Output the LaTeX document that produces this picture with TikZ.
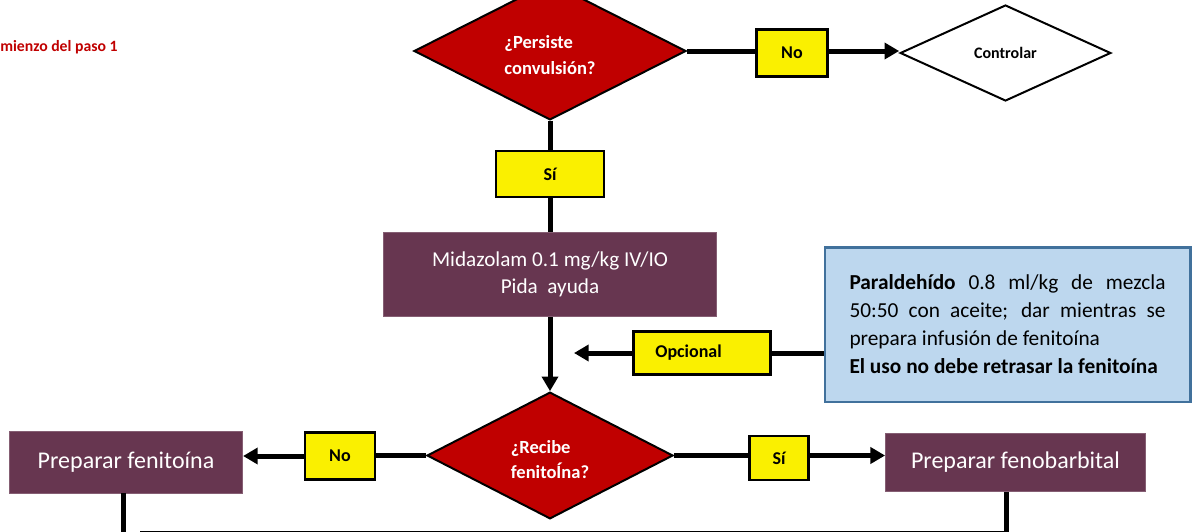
\documentclass[tikz,border=0pt]{standalone}
\usepackage{fontspec}
\setmainfont{Carlito}
\usetikzlibrary{shapes,positioning,arrows.meta,calc}

\begin{document}
\begin{tikzpicture}[x=0.75pt, y=-0.75pt,
    decision/.style={diamond, draw=black, line width=1.5pt, fill=decisionColor, text=white, inner sep=0pt, align=left, text height=35pt, font=\fontsize{13.9}{19}\selectfont\bfseries},
    answer/.style={rectangle, draw=black, line width=2pt, fill=answerColor, inner sep=0pt, font=\fontsize{13.5}{16}\selectfont\bfseries},
    action/.style={rectangle, draw=actionColor!80!white, line width=0.6pt, fill=actionColor, text=white, inner sep=0pt, align=center},
    link/.style={line width=3.75pt},
    linkarrow/.style={link, -{Triangle[length=11pt,width=12pt]}}]
    % Color Palette
    \definecolor{decisionColor}{HTML}{C00000}
    \definecolor{answerColor}{HTML}{FAF000}
    \definecolor{actionColor}{HTML}{673650}
    \definecolor{noteColor}{HTML}{BDD7EE}
    \definecolor{noteBorder}{HTML}{41719C}
    \definecolor{stepColor}{HTML}{C00000}

    \useasboundingbox (0,0) rectangle (1197,532);

    % --- Step label (Top Left) ---
    \node[anchor=west, inner sep=0pt, text=stepColor, font=\fontsize{11.8}{14}\selectfont\bfseries] (pasoUno) at (0,47) {mienzo del paso 1};

    % --- First decision ---
    \node[decision, minimum width=204pt, minimum height=100.5pt] (persiste) at (550,51) {¿Persiste\\convulsión?};
    \node[answer, minimum width=53pt, minimum height=35pt] (noA) at (792,53) {No};
    \node[diamond, draw=black, line width=1.5pt, fill=white, inner sep=0pt, minimum width=158pt, minimum height=72pt, font=\fontsize{12}{14}\selectfont\bfseries] (controlar) at (1005.5,53) {Controlar};
    \node[answer, minimum width=81pt, minimum height=34.5pt] (siA) at (550,174) {Sí};

    % --- Midazolam ---
    \node[action, minimum width=250pt, minimum height=63pt, font=\fontsize{15.9}{20.7}\selectfont] (midazolam) at (550,274.5) {Midazolam 0.1 mg/kg IV/IO\\Pida\ \ ayuda};

    % --- Optional note (Right) ---
    \node[draw=noteBorder, line width=2pt, fill=noteColor, minimum width=274pt, minimum height=116pt, text width=237pt, align=justify, font=\fontsize{16}{21}\selectfont] (paral) at (1007.5,324.5)
        {\textbf{Paraldehído} 0.8 ml/kg de mezcla\linebreak 50:50 con aceite; dar mientras se\linebreak prepara infusión de fenitoína\\\textbf{El uso no debe retrasar la fenitoína}};
    \node[answer, minimum height=32pt, text width=70pt, inner xsep=16.5pt, align=left] (opcional) at (702,353) {Opcional};
    \coordinate (opcionalEnd) at (574,353);

    % --- Second decision ---
    \node[decision, minimum width=184.5pt, minimum height=95pt] (recibe) at (550,455.5) {¿Recibe\\fenitoÍna?};
    \node[answer, minimum width=52.5pt, minimum height=35pt] (noB) at (340,456) {No};
    \node[answer, minimum width=44pt, minimum height=33pt] (siB) at (779,458) {Sí};
    \node[action, minimum width=175pt, minimum height=46.5pt, font=\fontsize{18}{22}\selectfont] (fenitoina) at (126,462) {Preparar fenitoína};
    \node[action, minimum width=195pt, minimum height=44pt, font=\fontsize{18}{22}\selectfont] (fenobarbital) at (1015.5,462.5) {Preparar fenobarbital};
    \coordinate (bajada) at (0,540);
    \coordinate (cierre) at (140,533.5);

    % Connectors
    \draw[link] (persiste.east) -- (persiste.east -| noA.west);
    \draw[linkarrow] (noA.east |- persiste.east) -- (persiste.east -| controlar.west);
    \draw[link] (persiste.south) -- (siA.north);
    \draw[link] (siA.south) -- (midazolam.north);
    \draw[linkarrow] (midazolam.south) -- (recibe.north);
    \draw[link] (paral.west |- opcional.east) -- (opcional.east);
    \draw[linkarrow] (opcional.west) -- (opcionalEnd);
    \draw[link] (recibe.west) -- (recibe.west -| noB.east);
    \draw[linkarrow] (noB.west) -- (noB.west -| fenitoina.east);
    \draw[link] (recibe.east) -- (recibe.east -| siB.west);
    \draw[linkarrow] (siB.east |- recibe.east) -- (recibe.east -| fenobarbital.west);
    \draw[link] ([xshift=-2pt]fenitoina.south) -- ([xshift=-2pt]fenitoina.south |- bajada);
    \draw[link] ([xshift=-7pt]fenobarbital.south) |- (cierre);

\end{tikzpicture}
\end{document}
